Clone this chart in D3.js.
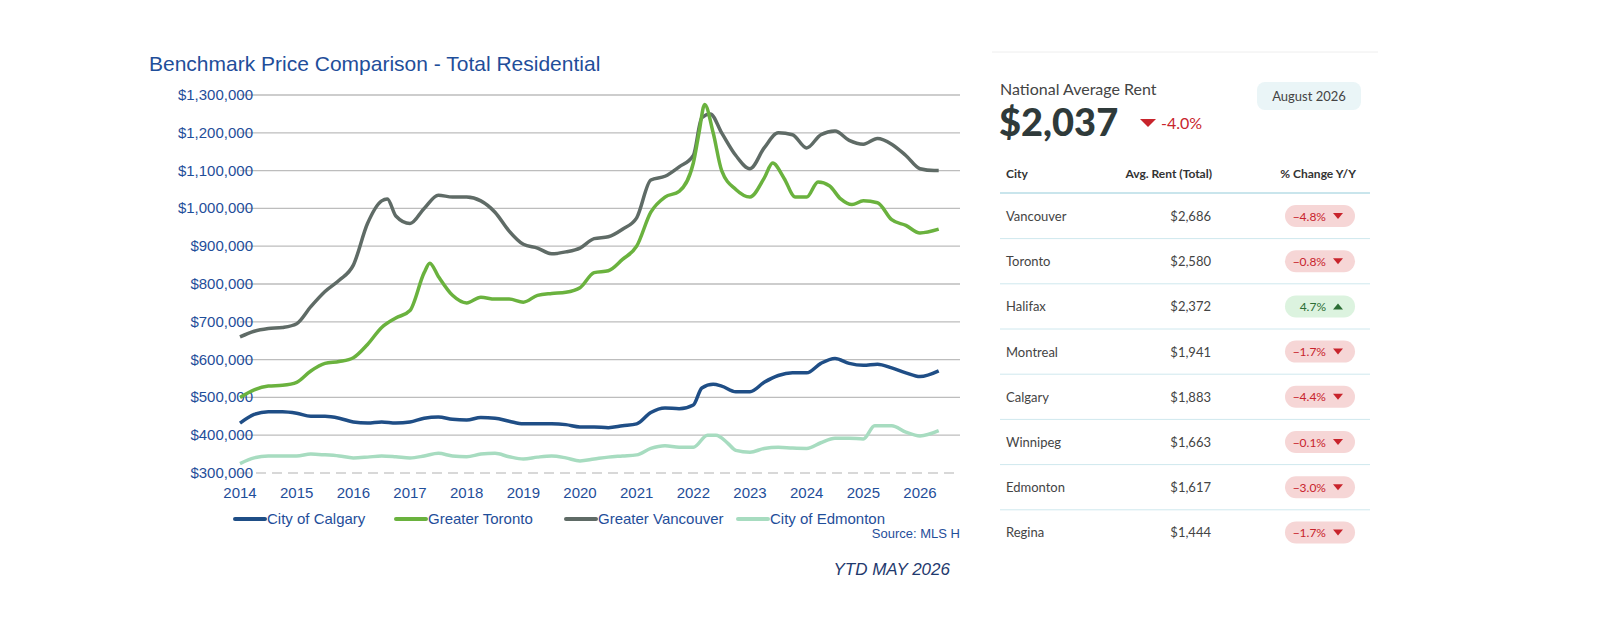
<!DOCTYPE html>
<html><head><meta charset="utf-8">
<script src="https://cdn.jsdelivr.net/npm/d3@7"></script>
<style>html,body{margin:0;padding:0;background:#fff;overflow:hidden}svg{display:block}</style></head>
<body><svg id="c" width="1600" height="640"></svg>
<script>
const yTicks=[300000,400000,500000,600000,700000,800000,900000,1000000,1100000,1200000,1300000];
const xYears=[2014,2015,2016,2017,2018,2019,2020,2021,2022,2023,2024,2025,2026];
const vanT=[2014,2014.25,2014.5,2014.75,2015,2015.25,2015.5,2015.75,2016,2016.25,2016.5,2016.6,2016.75,2017,2017.25,2017.5,2017.75,2018,2018.25,2018.5,2018.75,2019,2019.25,2019.5,2019.75,2020,2020.25,2020.5,2020.75,2021,2021.25,2021.5,2021.75,2022,2022.15,2022.3,2022.5,2022.75,2023,2023.25,2023.5,2023.75,2024,2024.25,2024.5,2024.75,2025,2025.25,2025.5,2025.75,2026,2026.25,2026.33];
const vanV=[660,675,682,685,695,740,780,810,850,960,1020,1025,980,960,1000,1035,1030,1030,1020,990,940,905,895,880,885,895,920,925,945,975,1075,1085,1110,1140,1240,1250,1200,1140,1105,1160,1200,1195,1160,1195,1205,1180,1170,1185,1170,1140,1105,1100,1100];
const torT=[2014,2014.25,2014.5,2014.75,2015,2015.25,2015.5,2015.75,2016,2016.25,2016.5,2016.75,2017,2017.25,2017.35,2017.5,2017.75,2018,2018.25,2018.5,2018.75,2019,2019.25,2019.5,2019.75,2020,2020.25,2020.5,2020.75,2021,2021.25,2021.5,2021.75,2022,2022.1,2022.2,2022.35,2022.5,2022.75,2023,2023.25,2023.4,2023.6,2023.8,2024,2024.2,2024.4,2024.6,2024.8,2025,2025.25,2025.5,2025.75,2026,2026.33];
const torV=[500,520,530,532,540,570,590,595,605,640,685,710,730,830,855,820,770,750,765,760,760,752,770,775,778,790,830,835,865,900,990,1030,1045,1120,1200,1275,1200,1100,1050,1030,1080,1120,1080,1030,1030,1070,1060,1025,1010,1020,1015,970,955,935,945];
const calT=[2014,2014.25,2014.5,2014.75,2015,2015.25,2015.5,2015.75,2016,2016.25,2016.5,2016.75,2017,2017.25,2017.5,2017.75,2018,2018.25,2018.5,2018.75,2019,2019.25,2019.5,2019.75,2020,2020.25,2020.5,2020.75,2021,2021.25,2021.5,2021.75,2022,2022.15,2022.35,2022.5,2022.75,2023,2023.25,2023.5,2023.75,2024,2024.25,2024.5,2024.75,2025,2025.25,2025.5,2025.75,2026,2026.33];
const calV=[432,455,462,462,458,450,450,445,435,432,435,432,435,445,448,442,440,447,445,437,430,430,430,428,422,422,420,425,430,460,472,470,480,525,535,530,515,515,540,558,565,565,590,603,590,585,588,578,565,555,570];
const edmT=[2014,2014.25,2014.5,2014.75,2015,2015.25,2015.5,2015.75,2016,2016.25,2016.5,2016.75,2017,2017.25,2017.5,2017.75,2018,2018.25,2018.5,2018.75,2019,2019.25,2019.5,2019.75,2020,2020.25,2020.5,2020.75,2021,2021.25,2021.5,2021.75,2022,2022.25,2022.4,2022.6,2022.75,2023,2023.25,2023.5,2023.75,2024,2024.25,2024.5,2024.75,2025,2025.2,2025.5,2025.75,2026,2026.33];
const edmV=[325,340,345,345,345,350,348,345,340,342,345,343,340,345,352,345,343,350,352,343,337,342,345,340,332,337,342,345,348,365,372,368,368,400,400,380,360,355,365,368,366,365,380,392,392,390,425,425,408,398,412];
const seriesNames=["City of Calgary","Greater Toronto","Greater Vancouver","City of Edmonton"];
const seriesColors=["#1f4e86","#6ab23e","#5f6b66","#a7dcc0"];
const cities=["Vancouver","Toronto","Halifax","Montreal","Calgary","Winnipeg","Edmonton","Regina"];
const rents=["$2,686","$2,580","$2,372","$1,941","$1,883","$1,663","$1,617","$1,444"];
const changes=[-4.8,-0.8,4.7,-1.7,-4.4,-0.1,-3.0,-1.7];

const svg=d3.select("#c");
const x=d3.scaleLinear().domain([2014,2026]).range([240,920]);
const y=d3.scaleLinear().domain([300000,1300000]).range([473,95]);
const blue="#1f4e9a";
svg.append("text").attr("x",149).attr("y",71).attr("font-family","Liberation Sans, Arial").attr("font-size",21).attr("fill","#1f4e9a").text("Benchmark Price Comparison - Total Residential");
const g=svg.append("g");
yTicks.forEach(t=>{
  g.append("line").attr("x1",240).attr("x2",960).attr("y1",y(t)).attr("y2",y(t)).attr("stroke",t===300000?"#ccc":"#bdbdbd").attr("stroke-width",1.3).attr("stroke-dasharray",t===300000?"10,6":null);
  g.append("text").attr("x",253).attr("y",y(t)+5).attr("text-anchor","end").attr("font-family","Liberation Sans Narrow, Liberation Sans, Arial").attr("font-size",15).attr("fill",blue).text(d3.format("$,")(t));
});
xYears.forEach(yr=>g.append("text").attr("x",x(yr)).attr("y",498).attr("text-anchor","middle").attr("font-family","Liberation Sans Narrow, Liberation Sans, Arial").attr("font-size",15).attr("fill",blue).text(yr));
const line=d3.line().x(d=>x(d[0])).y(d=>y(d[1]*1000)).curve(d3.curveMonotoneX);
const data=[[calT,calV],[torT,torV],[vanT,vanV],[edmT,edmV]];
[3,0,2,1].forEach(i=>{
  const pts=data[i][0].map((t,j)=>[t,data[i][1][j]]);
  g.append("path").attr("d",line(pts)).attr("fill","none").attr("stroke",seriesColors[i]).attr("stroke-width",3.5).attr("stroke-linejoin","round");
});
const lx=[235,396,566,738];
seriesNames.forEach((n,i)=>{
  g.append("line").attr("x1",lx[i]).attr("x2",lx[i]+30).attr("y1",519).attr("y2",519).attr("stroke",seriesColors[i]).attr("stroke-width",4).attr("stroke-linecap","round");
  g.append("text").attr("x",lx[i]+32).attr("y",524).attr("font-family","Liberation Sans Narrow, Liberation Sans, Arial").attr("font-size",15).attr("fill",blue).text(n);
});
g.append("text").attr("x",960).attr("y",538).attr("text-anchor","end").attr("font-family","Liberation Sans Narrow, Arial").attr("font-size",13).attr("fill",blue).text("Source: MLS H");
g.append("text").attr("x",950).attr("y",575).attr("text-anchor","end").attr("font-family","Liberation Sans, Arial").attr("font-style","italic").attr("font-size",17).attr("fill","#1f3a6e").text("YTD MAY 2026");

const p=svg.append("g").attr("font-family","Lato, Open Sans, sans-serif");
p.append("line").attr("x1",992).attr("x2",1378).attr("y1",52).attr("y2",52).attr("stroke","#eee");
p.append("text").attr("x",1000).attr("y",95).attr("font-size",16).attr("fill","#444").text("National Average Rent");
p.append("text").attr("x",999).attr("y",136).attr("font-size",38).attr("font-weight",900).attr("fill","#2f3a3a").text("$2,037");
p.append("path").attr("d","M1140,119 L1156,119 L1148,127Z").attr("fill","#c8242c");
p.append("text").attr("x",1161).attr("y",129).attr("font-size",16).attr("fill","#c8242c").text("-4.0%");
p.append("rect").attr("x",1257).attr("y",82).attr("width",104).attr("height",28).attr("rx",8).attr("fill","#eaf5f7");
p.append("text").attr("x",1309).attr("y",101).attr("text-anchor","middle").attr("font-size",13).attr("fill","#444").text("August 2026");
p.append("text").attr("x",1006).attr("y",178).attr("font-size",12).attr("font-weight",700).attr("fill","#333").text("City");
p.append("text").attr("x",1212).attr("y",178).attr("text-anchor","end").attr("font-size",12).attr("font-weight",700).attr("fill","#333").text("Avg. Rent (Total)");
p.append("text").attr("x",1356).attr("y",178).attr("text-anchor","end").attr("font-size",12).attr("font-weight",700).attr("fill","#333").text("% Change Y/Y");
p.append("line").attr("x1",1000).attr("x2",1370).attr("y1",193).attr("y2",193).attr("stroke","#b7dde6").attr("stroke-width",1.5);
cities.forEach((c,i)=>{
  const cy=216+i*45.2;
  p.append("text").attr("x",1006).attr("y",cy+5).attr("font-size",13).attr("fill","#444").text(c);
  p.append("text").attr("x",1211).attr("y",cy+5).attr("text-anchor","end").attr("font-size",13).attr("fill","#444").text(rents[i]);
  const up=changes[i]>0;
  p.append("rect").attr("x",1285).attr("y",cy-11).attr("width",70).attr("height",22).attr("rx",11).attr("fill",up?"#dcf3df":"#f6d6d6");
  p.append("text").attr("x",1326).attr("y",cy+4.5).attr("text-anchor","end").attr("font-size",12).attr("fill",up?"#2c6e35":"#c8242c").text(d3.format(".1f")(changes[i])+"%");
  p.append("path").attr("d",up?`M1333,${cy+3} L1343,${cy+3} L1338,${cy-3}Z`:`M1333,${cy-3} L1343,${cy-3} L1338,${cy+3}Z`).attr("fill",up?"#2c6e35":"#c8242c");
  if(i<cities.length-1) p.append("line").attr("x1",1000).attr("x2",1370).attr("y1",cy+22.6).attr("y2",cy+22.6).attr("stroke","#cfe8ee");
});
</script></body></html>
